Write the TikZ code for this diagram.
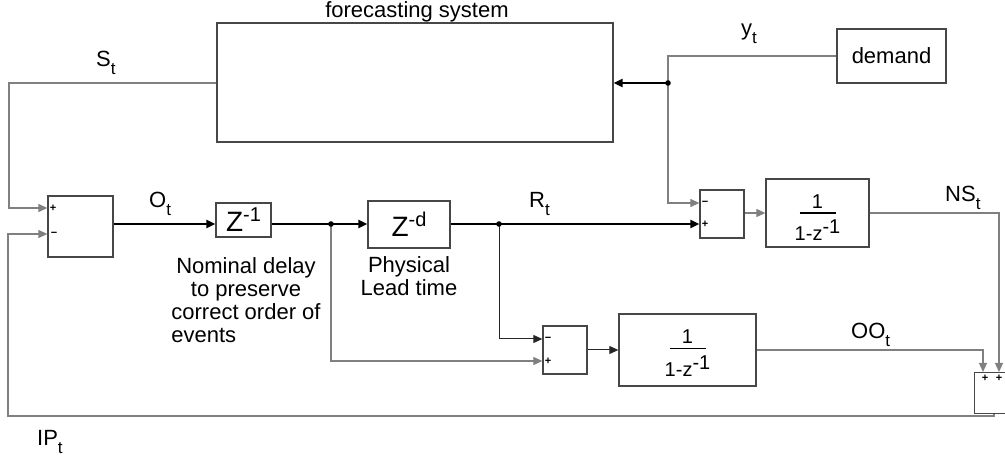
\documentclass[tikz,border=0pt]{standalone}
\usepackage{fontspec}
\setmainfont{Liberation Sans}
\usetikzlibrary{arrows.meta}
% symbol with a lowered subscript
\newcommand\subt[2]{#1\raisebox{-8pt}{\fontsize{17}{17}\selectfont #2}}
% delay operator Z^{k}
\newcommand\zpow[1]{{\fontsize{28}{28}\selectfont Z\raisebox{10pt}{\fontsize{20}{20}\selectfont #1}}}
% discrete integrator 1/(1-z^-1)
\newcommand\ratio[1]{\vbox{\offinterlineskip\fontsize{20}{20}\selectfont
  \halign{\hfil##\hfil\cr
    \noalign{\kern#1}
    1\cr
    \noalign{\kern4pt}
    \vrule width36pt height1.8pt depth0pt\cr
    \noalign{\kern6pt}
    1-z\raisebox{7pt}{\fontsize{20}{20}\selectfont -1}\cr}}}
\begin{document}
\begin{tikzpicture}[x=1pt,y=-1pt,
  blk/.style={draw=black!72,line width=1.3pt,inner sep=0pt,fill=white},
  thin/.style={draw=black!50,line width=1.1pt},
  thinb/.style={draw=black!85,line width=1pt},
  thick/.style={draw=black,line width=2.4pt},
  tip/.style={-{Triangle[length=9pt,width=8pt]}},
  txt/.style={font=\fontsize{22}{23}\selectfont,inner sep=0pt},
  lbl/.style={font=\fontsize{22}{23}\selectfont,inner sep=0pt,anchor=base west},
  sgn/.style={font=\fontsize{11}{11}\selectfont\bfseries,inner sep=0pt}]
\clip (0,0) rectangle (1005,465);

% blocks
\node[blk,minimum width=396pt,minimum height=119pt] (fc) at (415,82.5) {};
\node[blk,txt,minimum width=109pt,minimum height=54pt] (dem) at (891.5,56) {demand};
\node[blk,minimum width=65pt,minimum height=61pt] (s1) at (80.5,226.5) {};
\node[blk,minimum width=55pt,minimum height=34pt] (d1) at (243.5,220) {\zpow{-1}};
\node[blk,minimum width=82pt,minimum height=47pt] (d2) at (409,224.5) {\zpow{-d}};
\node[blk,minimum width=44pt,minimum height=48pt] (s2) at (722,214) {};
\node[blk,minimum width=103pt,minimum height=68pt] (i1) at (817.5,213) {\ratio{9pt}};
\node[blk,minimum width=44pt,minimum height=48pt] (s3) at (565,350) {};
\node[blk,minimum width=137pt,minimum height=72pt] (i2) at (687.5,350) {\ratio{6pt}};
\node[blk,minimum width=40pt,minimum height=41pt,anchor=north west] (s4) at (974,372) {};

% branch points
\coordinate (j0) at (668,83);
\coordinate (j1) at (331,224);
\coordinate (j2) at (499,224);

% signal paths
\draw[thin,tip] (dem.west) -| (j0) |- (s2.west |- 0,203);
\draw[thick,tip] (j0) -- (fc.east |- j0);
\draw[thin,tip] (fc.west |- j0) -| (9,208) -- (s1.west |- 0,208);
\draw[thick,tip] (s1.east |- 0,224) -- (d1.west |- 0,224);
\draw[thick,tip] (d1.east |- 0,224) -- (d2.west |- 0,224);
\draw[thick,tip] (d2.east |- 0,224) -- (s2.west |- 0,224);
\draw[thin,tip] (j1) |- (s3.west |- 0,361);
\draw[thinb,tip] (j2) |- (s3.west |- 0,339);
\draw[thinb,tip] (s3.east) -- (i2.west);
\draw[thin,tip] (s2.east |- 0,213) -- (i1.west |- 0,213);
\draw[thin,tip] (i1.east) -| ([xshift=25pt]s4.north west);
\draw[thin,tip] (i2.east) -| ([xshift=9pt]s4.north west);
\draw[thin,tip] ([xshift=20pt]s4.south west) |- (8,416) -- (8,234) -- (s1.west |- 0,234);

\foreach \j in {j0,j1,j2} \fill (\j) circle (2.8pt);

% summing signs
\node[sgn] (s1p) at (53,208) {+};
\node[sgn] (s1m) at (54,234) {−};
\node[sgn] (s2m) at (705,203) {−};
\node[sgn] (s2p) at (705,224) {+};
\node[sgn] (s3m) at (548,339) {−};
\node[sgn] (s3p) at (548,361) {+};
\node[sgn] (s4a) at (985,378) {+};
\node[sgn] (s4b) at (999,378) {+};

% signal names
\node[txt,anchor=base] (fct) at (417,17.5) {forecasting system};
\node[lbl] (St) at (96,67) {\subt{S}{t}};
\node[lbl] (yt) at (741,36) {\subt{y}{t}};
\node[lbl] (Ot) at (149,208) {\subt{O}{t}};
\node[lbl] (Rt) at (529,208) {\subt{R}{t}};
\node[lbl] (NSt) at (945,202) {\subt{NS}{t}};
\node[lbl] (OOt) at (851,338) {\subt{OO}{t}};
\node[lbl] (IPt) at (37,445) {\subt{IP}{t}};

% block captions
\node[txt,anchor=north] (nd) at (246,257)
  {\begin{tabular}{@{}c@{}}Nominal delay\\to preserve\\correct order of\\\multicolumn{1}{@{}l@{}}{events}\end{tabular}};
\node[txt,anchor=north] (lt) at (409,256)
  {\begin{tabular}{@{}c@{}}Physical\\Lead time\end{tabular}};
\end{tikzpicture}
\end{document}
